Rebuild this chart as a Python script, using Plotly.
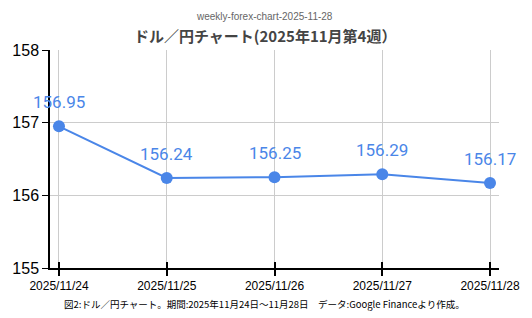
import plotly.graph_objects as go

dates = ["2025/11/24", "2025/11/25", "2025/11/26", "2025/11/27", "2025/11/28"]
rates = [156.95, 156.24, 156.25, 156.29, 156.17]
y_ticks = [155, 156, 157, 158]

title = "ドル／円チャート(2025年11月第4週）"
subtitle = "weekly-forex-chart-2025-11-28"
caption = "図2:ドル／円チャート。期間:2025年11月24日～11月28日　データ:Google Financeより作成。"

blue = "#4a86e8"
xs = list(range(len(dates)))

fig = go.Figure()
fig.add_trace(go.Scatter(
    x=xs, y=rates, mode="lines+markers",
    line=dict(color=blue, width=2),
    marker=dict(color=blue, size=12),
    hoverinfo="skip", showlegend=False,
))
# invisible trace to enable crossing ticks on the overlaid axis
fig.add_trace(go.Scatter(x=xs, y=rates, xaxis="x2", mode="markers",
                         marker=dict(opacity=0), hoverinfo="skip", showlegend=False))

for x, v in zip(xs, rates):
    fig.add_annotation(x=x, y=v, text=f"{v:.2f}", showarrow=False, yshift=24,
                       font=dict(family="Roboto", size=17, color=blue))

cx = 0.478
fig.add_annotation(x=cx, y=1, xref="paper", yref="paper", yshift=26, yanchor="bottom",
                   text=subtitle, showarrow=False,
                   font=dict(family="Liberation Sans", size=10, color="#666"))
fig.add_annotation(x=cx, y=1, xref="paper", yref="paper", yshift=2, yanchor="bottom",
                   text=f"<b>{title}</b>", showarrow=False,
                   font=dict(family="Noto Sans CJK JP", size=15, color="#444"))
fig.add_annotation(x=cx, y=0, xref="paper", yref="paper", yshift=-36, yanchor="middle",
                   text=caption, showarrow=False,
                   font=dict(family="Noto Sans CJK JP", size=9.5, color="#000"))

rng = [-9/108, 4 + 9/108]
fig.update_layout(
    width=532, height=318,
    margin=dict(l=49, r=32, t=50, b=50),
    paper_bgcolor="white", plot_bgcolor="white",
    xaxis=dict(range=rng, tickvals=xs, ticktext=dates, showgrid=True, gridcolor="#cccccc",
               showline=True, linecolor="black", linewidth=1.5, ticks="outside", ticklen=6,
               tickwidth=2, tickcolor="black", zeroline=False,
               tickfont=dict(family="Liberation Sans", size=12, color="black")),
    xaxis2=dict(range=rng, overlaying="x", tickvals=xs, showticklabels=False, ticks="inside",
                ticklen=6, tickwidth=2, tickcolor="black", showgrid=False, zeroline=False,
                side="bottom", anchor="y"),
    yaxis=dict(range=[155, 158], tickvals=y_ticks, showgrid=True, gridcolor="#cccccc",
               showline=True, linecolor="black", linewidth=1.5, ticks="outside", ticklen=6,
               tickcolor="black", zeroline=False,
               tickfont=dict(family="Liberation Sans", size=16, color="black")),
)

fig.write_html("out.html")
